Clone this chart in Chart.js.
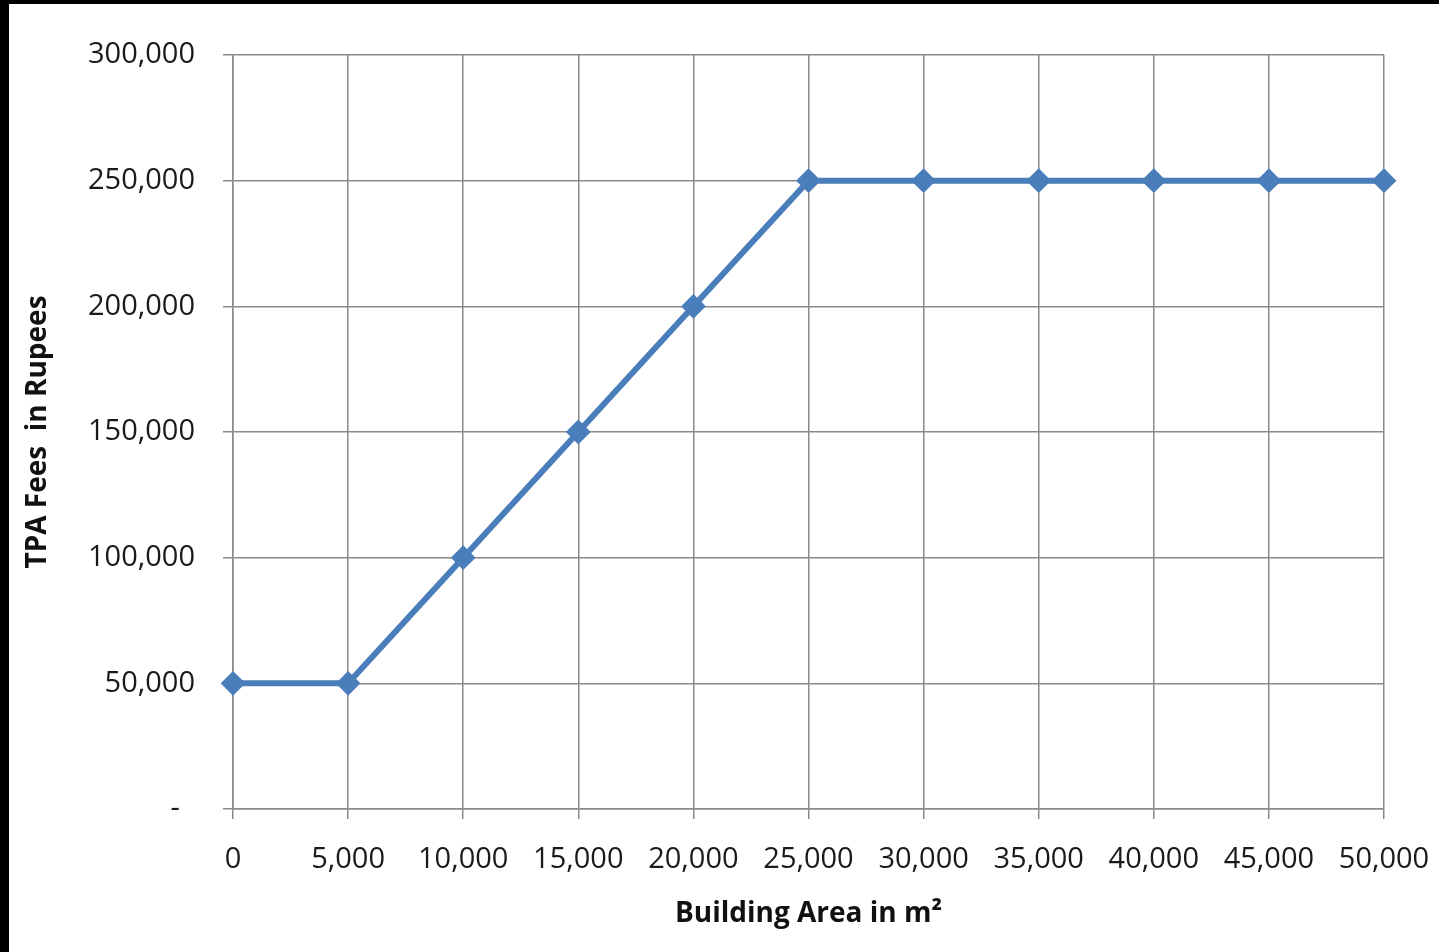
<!DOCTYPE html>
<html>
<head>
<meta charset="utf-8">
<script src="https://cdn.jsdelivr.net/npm/chart.js@4/dist/chart.umd.min.js"></script>
<style>
  html, body { margin: 0; padding: 0; background: #000; }
  #wrap { position: absolute; left: 9px; top: 4px; width: 1430px; height: 948px; background: #fff; }
  canvas { display: block; }
</style>
</head>
<body>
<div id="wrap"><canvas id="c" width="1430" height="948"></canvas></div>
<script>
// Building area (m²) and the TPA fee charged at each area
const areas = [0, 5000, 10000, 15000, 20000, 25000, 30000, 35000, 40000, 45000, 50000];
const fees = [50000, 50000, 100000, 150000, 200000, 250000, 250000, 250000, 250000, 250000, 250000];

const xTitle = 'Building Area in m²';
const yTitle = 'TPA Fees  in Rupees';

const FONT = "'Open Sans', 'DejaVu Sans', sans-serif";
const fmt = v => v.toLocaleString('en-US');

new Chart(document.getElementById('c'), {
  type: 'line',
  data: {
    datasets: [{
      data: areas.map((a, i) => ({ x: a, y: fees[i] })),
      borderColor: '#4a7ebb',
      backgroundColor: '#4a7ebb',
      borderWidth: 6,
      pointStyle: 'rectRot',
      pointRadius: 11,
      pointBorderWidth: 2,
      pointBorderColor: '#4a7ebb',
      pointBackgroundColor: '#4a7ebb',
      tension: 0,
      fill: false,
      clip: false
    }]
  },
  options: {
    responsive: false,
    animation: false,
    layout: { padding: { top: 51, right: 55, left: 12, bottom: 21 } },
    plugins: { legend: { display: false }, tooltip: { enabled: false } },
    scales: {
      x: {
        type: 'linear',
        min: 0, max: 50000,
        ticks: {
          stepSize: 5000,
          color: '#1a1a1a',
          font: { family: FONT, size: 29 },
          padding: 23,
          maxRotation: 0,
          callback: v => fmt(v)
        },
        grid: { color: '#8a8a8a', lineWidth: 1.5, tickLength: 10, tickColor: '#8a8a8a' },
        border: { color: '#8a8a8a', width: 1.5 },
        title: {
          display: true, text: xTitle, color: '#111',
          font: { family: FONT, size: 28, weight: 'bold' },
          padding: { top: 4, bottom: 0 }
        },
        afterFit: s => { s.height = 122; s.paddingLeft = 0; s.paddingRight = 0; }
      },
      y: {
        min: 0, max: 300000,
        ticks: {
          stepSize: 50000,
          color: '#1a1a1a',
          font: { family: FONT, size: 29 },
          padding: 28,
          callback: v => v === 0 ? '-  ' : fmt(v)
        },
        grid: { color: '#8a8a8a', lineWidth: 1.5, tickLength: 10, tickColor: '#8a8a8a' },
        border: { color: '#8a8a8a', width: 1.5 },
        title: {
          display: true, text: yTitle, color: '#111',
          font: { family: FONT, size: 28, weight: 'bold' },
          padding: { top: 0, bottom: 0 }
        },
        afterFit: s => { s.width = 212; }
      }
    }
  }
});
</script>
</body>
</html>
